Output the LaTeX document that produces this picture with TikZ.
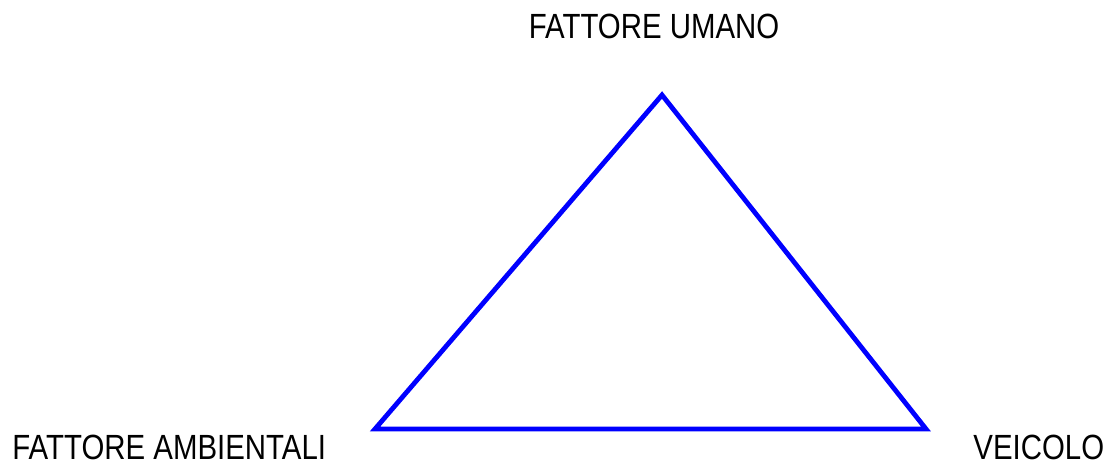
\documentclass[tikz,border=0pt]{standalone}
\usepackage{fontspec}
\setmainfont{Liberation Sans}
\usepackage{tikz}
\usepackage{xcolor}
\usetikzlibrary{positioning}
\definecolor{triblue}{HTML}{0000FF}
\definecolor{ink}{HTML}{000000}
\newcommand{\narrowtext}[1]{\scalebox{0.84}[1]{#1}}
\tikzset{
  cornerlabel/.style={text=ink,inner sep=0pt,text depth=0pt,font=\fontsize{17.5}{19}\selectfont},
  sideline/.style={draw=triblue,line width=2.4pt}
}
\begin{document}
\begin{tikzpicture}[x=0.5pt,y=-0.5pt]
      \useasboundingbox (0,0) rectangle (1106,464);
      % triangle corners
      \coordinate (top) at (662,95);
      \coordinate (left) at (375,429);
      \coordinate (right) at (926,429);
      \draw[sideline] (top) -- (right) -- (left) -- cycle;
      % labels
      \node[cornerlabel,anchor=base] (human) at (654,39) {\narrowtext{FATTORE UMANO}};
      \node[cornerlabel,anchor=base west] (env) at (12,459) {\narrowtext{FATTORE AMBIENTALI}};
      \node[cornerlabel,anchor=base west] (vehicle) at (973,459) {\narrowtext{VEICOLO}};
    \end{tikzpicture}
\end{document}
